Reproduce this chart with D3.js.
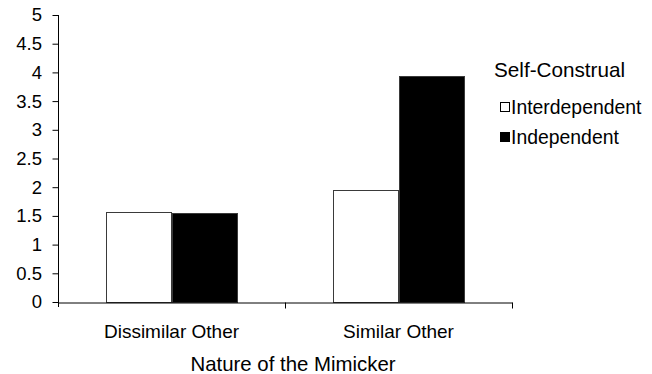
<!DOCTYPE html>
<html><head><meta charset="utf-8">
<script src="https://cdn.jsdelivr.net/npm/d3@7"></script>
<style>body{margin:0;background:#fff}svg{display:block}text{font-family:"Liberation Sans",Arial,sans-serif;fill:#000}</style>
</head><body>
<svg id="c" width="652" height="374"></svg>
<script>
const categories = ["Dissimilar Other", "Similar Other"];
const seriesNames = ["Interdependent", "Independent"];
const interdependent = [1.573, 1.95];
const independent = [1.545, 3.93];
const yTicks = [0, 0.5, 1, 1.5, 2, 2.5, 3, 3.5, 4, 4.5, 5];

const svg = d3.select("#c");
const mLeft = 58, mRight = 512, mTop = 15, mBottom = 302;
const FF = '"Liberation Sans",Arial,sans-serif';
const x = d3.scaleBand().domain(categories).range([mLeft, mRight]).paddingInner(0).paddingOuter(0);
const x1 = d3.scaleBand().domain(seriesNames).range([0, x.bandwidth()]).paddingInner(0).paddingOuter(0.746);
const y = d3.scaleLinear().domain([0, 5]).range([mBottom, mTop]);

const data = categories.map((c, i) => ({cat: c, vals: [interdependent[i], independent[i]]}));
const fills = ["#fff", "#000"];

const g = svg.append("g");
data.forEach(d => {
  d.vals.forEach((v, j) => {
    g.append("rect")
      .attr("x", Math.round(x(d.cat) + x1(seriesNames[j])) + 0.5)
      .attr("y", Math.round(y(v)) + 0.5)
      .attr("width", Math.round(x1.bandwidth()))
      .attr("height", Math.round(y(0)) - Math.round(y(v)))
      .attr("fill", fills[j])
      .attr("stroke", "#3a3a3a")
      .attr("stroke-width", 1);
  });
});

// y axis
const ya = svg.append("g").attr("transform", `translate(${mLeft + 0.5},0)`)
  .call(d3.axisLeft(y).tickValues(yTicks).tickSize(6).tickSizeOuter(0).tickFormat(d3.format("~g")));
ya.select(".domain").attr("stroke", "#000").attr("d", `M0,${mTop}V${mBottom + 5}`);
ya.selectAll(".tick line").attr("stroke", "#000");
ya.selectAll(".tick text").attr("font-size", 18.5).attr("x", -16.5).style("font-family", FF);

// x axis
const xa = svg.append("g").attr("transform", `translate(0,${mBottom + 0.5})`)
  .call(d3.axisBottom(x).tickSize(0).tickSizeOuter(0));
xa.select(".domain").attr("stroke", "#000");
xa.selectAll(".tick text").attr("font-size", 19).attr("dy", 0).attr("y", 35).style("font-family", FF);
[x(categories[1]), mRight].forEach(px => {
  xa.append("line").attr("x1", Math.round(px) + 0.5).attr("x2", Math.round(px) + 0.5).attr("y1", 0).attr("y2", 6).attr("stroke", "#000");
});

svg.append("text").attr("x", 293).attr("y", 371).attr("text-anchor", "middle")
  .attr("font-size", 20.4).text("Nature of the Mimicker");

// legend
svg.append("text").attr("x", 494).attr("y", 77).attr("font-size", 20.7).text("Self-Construal");
seriesNames.forEach((s, j) => {
  const ly = 114 + j * 30;
  svg.append("rect").attr("x", 500.5).attr("y", ly - 11.5).attr("width", 9).attr("height", 9)
    .attr("fill", fills[j]).attr("stroke", "#000");
  svg.append("text").attr("x", 511).attr("y", ly).attr("font-size", 19.4).text(s);
});
</script>
</body></html>
